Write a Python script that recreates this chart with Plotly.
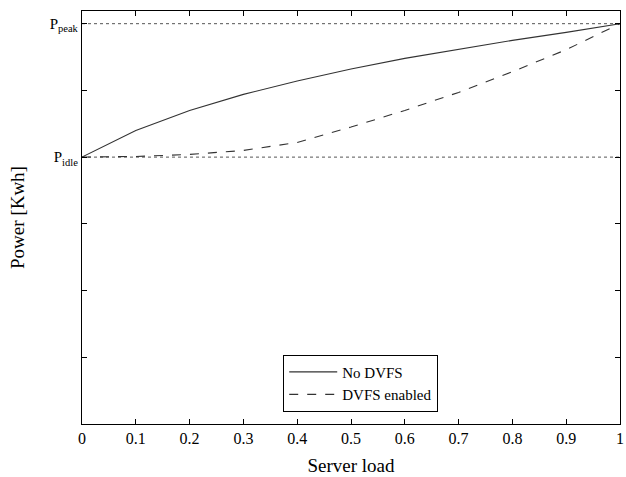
import plotly.graph_objects as go

# ---- data ----
server_load = [0.0, 0.1, 0.2, 0.3, 0.4, 0.5, 0.6, 0.7, 0.8, 0.9, 1.0]
power_no_dvfs = [4.0, 4.40, 4.70, 4.94, 5.14, 5.32, 5.48, 5.62, 5.75, 5.87, 6.0]
power_dvfs = [4.0, 4.01, 4.04, 4.10, 4.22, 4.45, 4.70, 4.97, 5.28, 5.61, 6.0]
P_IDLE = 4.0
P_PEAK = 6.0
x_ticks = [0, 0.1, 0.2, 0.3, 0.4, 0.5, 0.6, 0.7, 0.8, 0.9, 1]
x_tick_labels = ["0", "0.1", "0.2", "0.3", "0.4", "0.5", "0.6", "0.7", "0.8", "0.9", "1"]
y_ticks = [0, 1, 2, 3, 4, 5, 6]
y_tick_labels = ["", "", "", "", "P<sub>idle</sub>", "", "P<sub>peak</sub>"]

FONT = "Liberation Serif"

fig = go.Figure()

# reference dotted levels
for level in (P_PEAK, P_IDLE):
    fig.add_trace(go.Scatter(
        x=[server_load[0], server_load[-1]], y=[level, level], mode="lines",
        line=dict(color="#555555", width=1, dash="dot"),
        showlegend=False, hoverinfo="skip"))

fig.add_trace(go.Scatter(
    x=server_load, y=power_no_dvfs, mode="lines", name="No DVFS",
    line=dict(color="#333333", width=1.1)))
fig.add_trace(go.Scatter(
    x=server_load, y=power_dvfs, mode="lines", name="DVFS enabled",
    line=dict(color="#333333", width=1.1, dash="dash")))

fig.update_layout(
    width=626, height=477,
    margin=dict(l=82, r=2, t=11, b=53),
    paper_bgcolor="white", plot_bgcolor="white",
    font=dict(family=FONT, size=16, color="black"),
    showlegend=True,
    legend=dict(
        x=0.374, y=0.168, xanchor="left", yanchor="top",
        bordercolor="black", borderwidth=1, bgcolor="white",
        font=dict(family=FONT, size=15), tracegroupgap=0,
        itemwidth=48),
    xaxis=dict(
        range=[0, 1], tickvals=x_ticks, ticktext=x_tick_labels,
        ticks="inside", ticklen=5, tickcolor="black",
        showline=True, linecolor="black", linewidth=1.3, mirror="allticks",
        showgrid=False, zeroline=False, ticklabeloverflow="allow",
        title=dict(text="Server load", font=dict(family=FONT, size=19), standoff=12),
        tickfont=dict(family=FONT, size=16)),
    yaxis=dict(
        range=[0, 6.19], tickvals=y_ticks, ticktext=y_tick_labels,
        ticks="inside", ticklen=5, tickcolor="black",
        showline=True, linecolor="black", linewidth=1.3, mirror="allticks",
        showgrid=False, zeroline=False,
        title=dict(text="Power [Kwh]", font=dict(family=FONT, size=19), standoff=20),
        tickfont=dict(family=FONT, size=15)),
)

fig.write_html("out.html", config={"displayModeBar": False},
               post_script="document.body.style.margin='0';")
